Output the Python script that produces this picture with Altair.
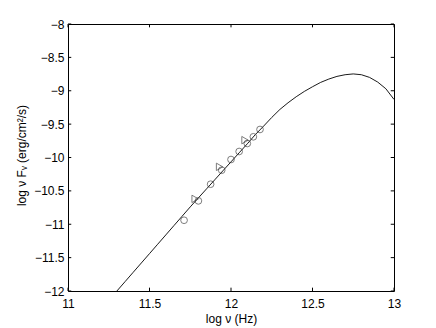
import altair as alt
import pandas as pd

# Model curve
curve_x = [11.30, 11.35, 11.40, 11.45, 11.50, 11.55, 11.60, 11.65, 11.70, 11.75,
           11.80, 11.85, 11.90, 11.95, 12.00, 12.05, 12.10, 12.15, 12.20, 12.25,
           12.30, 12.35, 12.40, 12.45, 12.50, 12.55, 12.60, 12.65, 12.70, 12.75,
           12.80, 12.85, 12.90, 12.95, 13.00]
curve_y = [-12.00, -11.86, -11.72, -11.58, -11.44, -11.30, -11.16, -11.02, -10.88, -10.74,
           -10.605, -10.47, -10.335, -10.20, -10.065, -9.93, -9.795, -9.655, -9.53, -9.40,
           -9.28, -9.18, -9.09, -9.01, -8.94, -8.875, -8.825, -8.785, -8.76, -8.748,
           -8.76, -8.80, -8.87, -8.97, -9.13]

# Circle observations
circ_x = [11.712, 11.80, 11.875, 11.943, 12.00, 12.05, 12.10, 12.137, 12.178]
circ_y = [-10.94, -10.65, -10.40, -10.19, -10.03, -9.91, -9.79, -9.69, -9.58]

# Triangle observations
tri_x = [11.78, 11.93, 12.086]
tri_y = [-10.62, -10.14, -9.74]

x_ticks = [11, 11.5, 12, 12.5, 13]
y_ticks = [-12, -11.5, -11, -10.5, -10, -9.5, -9, -8.5, -8]

XMIN, XMAX = 11, 13
YMIN, YMAX = -12, -8
DX = 0.02   # inward tick length in x data units
DY = 0.05   # inward tick length in y data units

curve = pd.DataFrame({"x": curve_x, "y": curve_y})
circ = pd.DataFrame({"x": circ_x, "y": circ_y})
tri = pd.DataFrame({"x": tri_x, "y": tri_y})

segs = []
for t in x_ticks:
    segs.append({"x": t, "x2": t, "y": YMIN, "y2": YMIN + DY})
    segs.append({"x": t, "x2": t, "y": YMAX, "y2": YMAX - DY})
for t in y_ticks:
    segs.append({"x": XMIN, "x2": XMIN + DX, "y": t, "y2": t})
    segs.append({"x": XMAX, "x2": XMAX - DX, "y": t, "y2": t})
ticks = pd.DataFrame(segs)

xscale = alt.Scale(domain=[XMIN, XMAX], nice=False, zero=False)
yscale = alt.Scale(domain=[YMIN, YMAX], nice=False, zero=False)

xaxis = alt.Axis(values=x_ticks, format="~g", title="log ν (Hz)", ticks=False,
                 domain=False, grid=False, labelPadding=7, labelFlush=False,
                 labelOverlap=False, labelSeparation=0, titleY=27, titleBaseline="middle")
yaxis = alt.Axis(values=y_ticks, format="~g", title="log ν Fᵥ (erg/cm²/s)", ticks=False,
                 domain=False, grid=False, labelPadding=4, labelFlush=False,
                 labelOverlap=False, labelSeparation=0,
                 titleX=-47, titleY=131, titleBaseline="middle", titleAngle=270)

def X():
    return alt.X("x:Q", scale=xscale, axis=xaxis)

def Y():
    return alt.Y("y:Q", scale=yscale, axis=yaxis)

line = alt.Chart(curve).mark_line(color="black", strokeWidth=0.9).encode(x=X(), y=Y())

circles = alt.Chart(circ).mark_point(shape="circle", filled=False, color="#333333",
                                     strokeWidth=0.9, size=45).encode(x=X(), y=Y())
triangles = alt.Chart(tri).mark_point(shape="triangle-right", filled=False, color="#333333",
                                      strokeWidth=0.9, size=55).encode(x=X(), y=Y())

tick_layer = alt.Chart(ticks).mark_rule(color="black", strokeWidth=1).encode(
    x=X(), x2="x2", y=Y(), y2="y2")

chart = alt.layer(line, tick_layer, circles, triangles).properties(
    width=326, height=267,
    autosize=alt.AutoSizeParams(type="none"),
    padding={"left": 60, "top": 16, "right": 28, "bottom": 36},
    background="white",
).configure_view(stroke="black", strokeWidth=1).configure_axis(
    labelFont="Liberation Sans", titleFont="Liberation Sans",
    labelFontSize=12, titleFontSize=12, labelColor="black", titleColor="black",
    titleFontWeight="normal", labelOverlap=False,
).configure_axisY(labelOverlap=False)

chart.save("out.html", embed_options={"renderer": "svg", "actions": False})
